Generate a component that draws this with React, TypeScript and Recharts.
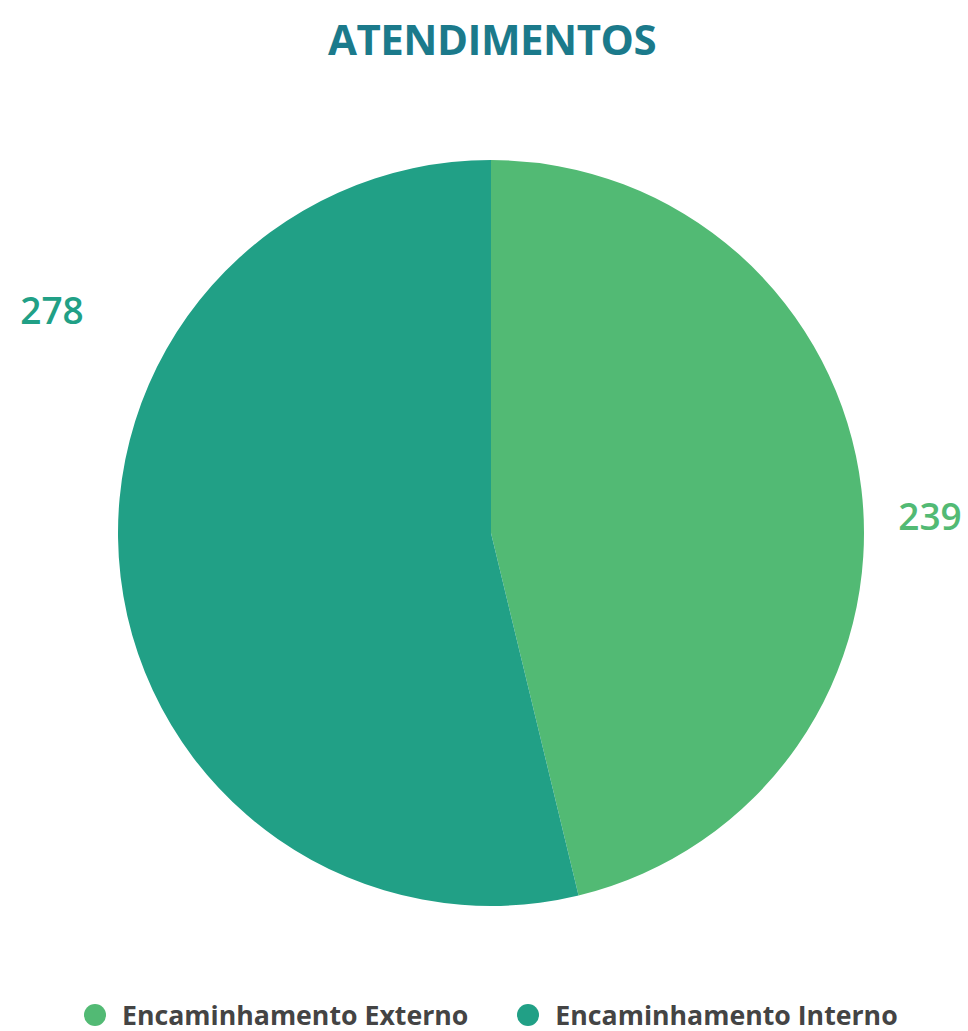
import { Pie, PieChart, Cell } from 'recharts'

const categories = ['Encaminhamento Externo', 'Encaminhamento Interno']
const values = [239, 278]
const colors = ['#52BA74', '#21A086']
const title = 'ATENDIMENTOS'

const data = categories.map((name, i) => ({ name, value: values[i] }))

const font = '"Open Sans", "Noto Sans", sans-serif'

function renderLabel(props: any) {
  const { cx, cy, outerRadius, index, value } = props
  // labels sit just outside the rim: first slice at the right, second up-left
  const right = index === 0
  const x = right ? cx + outerRadius + 66 : cx - outerRadius - 66
  const y = right ? cy - 18 : cy - outerRadius * 0.6
  return (
    <text x={x} y={y} fill={colors[index]} textAnchor="middle" dominantBaseline="central" fontSize={37} fontWeight={600} fontFamily={font}>
      {value}
    </text>
  )
}

export default function App() {
  return (
    <div style={{ position: 'relative', width: 968, height: 1031, background: '#fff', fontFamily: font }}>
      <style>{'body{margin:0}'}</style>
      <div style={{ position: 'absolute', top: 10, left: 0, width: 984, textAlign: 'center', fontSize: 42, fontWeight: 700, color: '#1B7A8B', letterSpacing: -0.5 }}>{title}</div>
      <PieChart width={968} height={1031} margin={{ top: 0, right: 0, bottom: 0, left: 0 }}>
        <Pie data={data} dataKey="value" nameKey="name" cx={491} cy={533} outerRadius={373} startAngle={90} endAngle={-270} stroke="none" label={renderLabel} labelLine={false} isAnimationActive={false}>
          {data.map((d, i) => <Cell key={d.name} fill={colors[i]} />)}
        </Pie>
      </PieChart>
      <div style={{ position: 'absolute', top: 996, left: 84, display: 'flex', gap: 49, fontSize: 26.7, fontWeight: 700, color: '#444' }}>
        {categories.map((c, i) => (
          <div key={c} style={{ display: 'flex', alignItems: 'center', gap: 16 }}>
            <span style={{ width: 22, height: 22, borderRadius: 11, background: colors[i], display: 'inline-block' }} />
            <span>{c}</span>
          </div>
        ))}
      </div>
    </div>
  )
}
